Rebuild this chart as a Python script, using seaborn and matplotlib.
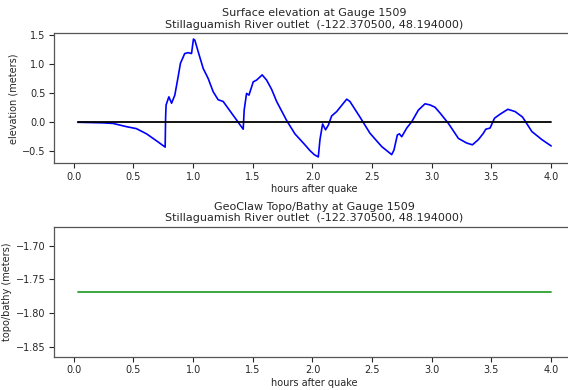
import numpy as np
import pandas as pd
import matplotlib
matplotlib.use('Agg')
import matplotlib.pyplot as plt
import seaborn as sns

# Gauge 1509 surface elevation
hours = [0.033, 0.246, 0.33, 0.44, 0.525, 0.61, 0.693, 0.766, 0.770, 0.774,
         0.797, 0.82, 0.847, 0.875, 0.894, 0.93, 0.959, 0.987, 1.003, 1.015,
         1.043, 1.085, 1.126, 1.168, 1.21, 1.252, 1.294, 1.364, 1.42, 1.428,
         1.448, 1.468, 1.504, 1.532, 1.579, 1.616, 1.658, 1.70, 1.784, 1.853,
         1.937, 1.979, 2.015, 2.049, 2.063, 2.085, 2.11, 2.133, 2.161, 2.203,
         2.287, 2.314, 2.398, 2.482, 2.58, 2.664, 2.683, 2.711, 2.728, 2.748,
         2.79, 2.832, 2.887, 2.943, 2.985, 3.027, 3.069, 3.139, 3.223, 3.293,
         3.34, 3.39, 3.432, 3.452, 3.488, 3.525, 3.572, 3.637, 3.698, 3.76,
         3.838, 3.922, 4.0]
surface = [-0.01, -0.02, -0.03, -0.085, -0.12, -0.21, -0.33, -0.44, 0.09, 0.29,
           0.43, 0.32, 0.46, 0.78, 1.01, 1.18, 1.195, 1.18, 1.43, 1.41,
           1.21, 0.92, 0.75, 0.52, 0.38, 0.35, 0.23, 0.03, -0.13, 0.20,
           0.49, 0.46, 0.69, 0.72, 0.81, 0.72, 0.56, 0.35, 0.02, -0.21,
           -0.40, -0.50, -0.57, -0.61, -0.31, -0.04, -0.14, -0.06, 0.10, 0.175,
           0.39, 0.35, 0.08, -0.20, -0.43, -0.57, -0.49, -0.23, -0.21, -0.26,
           -0.11, 0.0, 0.20, 0.31, 0.29, 0.25, 0.15, -0.03, -0.29, -0.37,
           -0.40, -0.31, -0.20, -0.13, -0.11, 0.06, 0.13, 0.215, 0.175, 0.08,
           -0.17, -0.31, -0.42]

# topography / bathymetry at the gauge (constant)
topo_hours = [0.033, 4.0]
topo = [-1.769, -1.769]

sea_level = [0.0, 0.0]

sns.set_style('ticks')
plt.rcParams['font.family'] = ['DejaVu Sans']

fig = plt.figure(figsize=(5.68, 3.90), dpi=100)
ax1 = fig.add_axes([0.0951, 0.5813, 0.9169, 0.3333])
ax2 = fig.add_axes([0.0951, 0.0854, 0.9169, 0.3333])

df = pd.DataFrame({'hours': hours, 'surface': surface})
sns.lineplot(x='hours', y='surface', data=df, color='blue', linewidth=1.2, ax=ax1)
sns.lineplot(x=topo_hours, y=sea_level, color='black', linewidth=1.3, ax=ax1)
ax1.set_xlim(-0.165, 4.198)
ax1.set_ylim(-0.72, 1.53)
ax1.set_yticks([-0.5, 0.0, 0.5, 1.0, 1.5])
ax1.set_xticks(np.arange(0, 4.01, 0.5))
ax1.set_title('Surface elevation at Gauge 1509\nStillaguamish River outlet  (-122.370500, 48.194000)',
              fontsize=8, pad=4)
ax1.set_xlabel('hours after quake', fontsize=7, labelpad=2)
ax1.set_ylabel('elevation (meters)', fontsize=7, labelpad=3)

df2 = pd.DataFrame({'hours': topo_hours, 'topo': topo})
sns.lineplot(x='hours', y='topo', data=df2, color='#2ca02c', linewidth=1.3, ax=ax2)
ax2.set_xlim(-0.165, 4.198)
ax2.set_ylim(-1.865, -1.672)
ax2.set_yticks([-1.85, -1.80, -1.75, -1.70])
ax2.set_xticks(np.arange(0, 4.01, 0.5))
ax2.set_title('GeoClaw Topo/Bathy at Gauge 1509\nStillaguamish River outlet  (-122.370500, 48.194000)',
              fontsize=8, pad=4)
ax2.set_xlabel('hours after quake', fontsize=7, labelpad=2)
ax2.set_ylabel('topo/bathy (meters)', fontsize=7, labelpad=3)

for ax in (ax1, ax2):
    ax.tick_params(labelsize=7, length=3.5, width=0.8, pad=2.5)
    for s in ax.spines.values():
        s.set_linewidth(0.9)
        s.set_color('#555555')

fig.savefig('out.png', dpi=100)
